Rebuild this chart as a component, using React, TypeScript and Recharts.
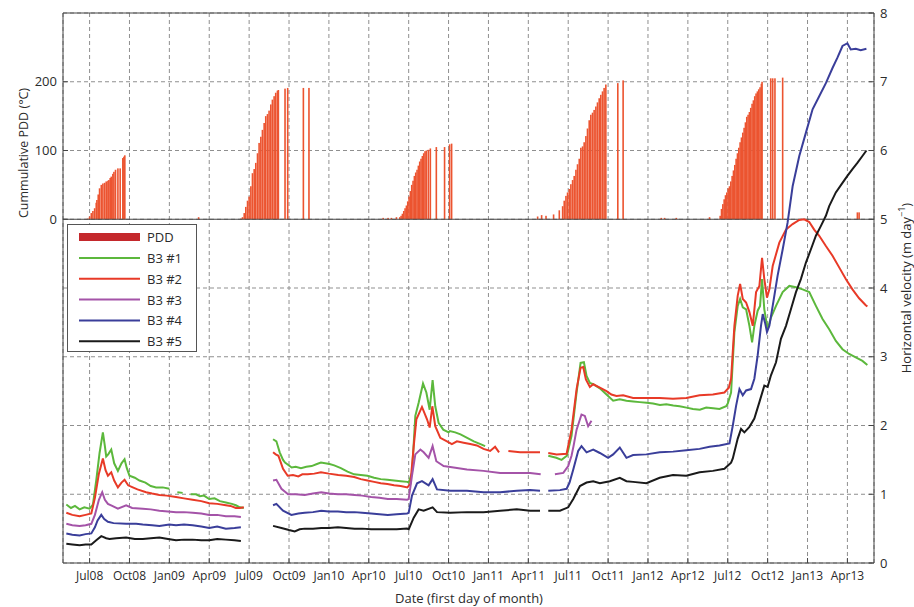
import { Bar, CartesianGrid, ComposedChart, Line, ReferenceLine, XAxis, YAxis } from 'recharts';

// x = months since Jan 2008 (6 = 1 Jul 2008), velocity in m/day, PDD in °C
type Pt = [number, number | null];

const quarterTicks = [6, 9, 12, 15, 18, 21, 24, 27, 30, 33, 36, 39, 42, 45, 48, 51, 54, 57, 60, 63];
const quarterLabels = ['Jul08', 'Oct08', 'Jan09', 'Apr09', 'Jul09', 'Oct09', 'Jan10', 'Apr10', 'Jul10', 'Oct10',
  'Jan11', 'Apr11', 'Jul11', 'Oct11', 'Jan12', 'Apr12', 'Jul12', 'Oct12', 'Jan13', 'Apr13'];
const pddTicks = [0, 100, 200];
const velocityTicks = [0, 1, 2, 3, 4, 5, 6, 7, 8];

const pdd2008: Pt[] = [[5.75, 0.5], [5.88, 1], [6.0, 4], [6.13, 9], [6.25, 12], [6.38, 16], [6.5, 24], [6.55, 28], [6.65, 36],
  [6.75, 45], [6.88, 50], [7.0, 52], [7.13, 53], [7.25, 55], [7.38, 56], [7.45, 57], [7.55, 60], [7.63, 62], [7.75, 66],
  [7.83, 69], [7.95, 72], [8.13, 74], [8.3, 74], [8.5, 89], [8.58, 91], [8.65, 93]];
const pdd2009: Pt[] = [[14.2, 3], [17.38, 1], [17.5, 3], [17.63, 9], [17.75, 18], [17.88, 27], [18.0, 33], [18.13, 48], [18.25, 67],
  [18.38, 73], [18.5, 82], [18.63, 96], [18.75, 111], [18.88, 120], [19.0, 130], [19.13, 140], [19.25, 150], [19.38, 153],
  [19.5, 158], [19.63, 167], [19.75, 174], [19.88, 179], [20.0, 184], [20.13, 187], [20.2, 188], [20.7, 190], [20.9, 191],
  [22.08, 191], [22.5, 191]];
const pdd2010: Pt[] = [[28.08, 2], [28.45, 2], [28.7, 2], [29.08, 3], [29.33, 3], [29.43, 5], [29.53, 8], [29.63, 12], [29.73, 16],
  [29.83, 20], [29.93, 26], [30.03, 33], [30.13, 41], [30.23, 50], [30.33, 56], [30.43, 63], [30.53, 68], [30.63, 72],
  [30.73, 78], [30.83, 84], [30.93, 88], [31.03, 92], [31.13, 96], [31.23, 99], [31.33, 100], [31.48, 101], [31.63, 103],
  [32.08, 105], [32.7, 105], [33.08, 109], [33.23, 110]];
const pdd2011: Pt[] = [[39.7, 4], [40.0, 6], [40.33, 5], [40.9, 7], [41.33, 13], [41.58, 19], [41.7, 27], [41.83, 34], [41.95, 39],
  [42.08, 44], [42.2, 51], [42.33, 57], [42.45, 63], [42.58, 72], [42.7, 80], [42.83, 88], [42.95, 104], [43.08, 106],
  [43.2, 112], [43.33, 121], [43.45, 132], [43.58, 144], [43.7, 152], [43.83, 155], [43.95, 159], [44.08, 164], [44.2, 170],
  [44.33, 176], [44.45, 181], [44.58, 186], [44.7, 191], [44.83, 196], [45.73, 198], [46.13, 202]];
const pdd2012: Pt[] = [[49.0, 2], [49.25, 2], [50.13, 2], [52.63, 3], [53.43, 5], [53.53, 15], [53.63, 22], [53.73, 29], [53.83, 35],
  [53.93, 39], [54.03, 45], [54.13, 48], [54.23, 55], [54.33, 63], [54.43, 71], [54.53, 79], [54.63, 88], [54.73, 96],
  [54.83, 104], [54.93, 112], [55.03, 119], [55.13, 126], [55.23, 133], [55.33, 141], [55.43, 149], [55.53, 152],
  [55.63, 156], [55.73, 162], [55.83, 168], [55.93, 173], [56.03, 179], [56.13, 183], [56.23, 186], [56.33, 189],
  [56.43, 192], [56.53, 197], [56.58, 200], [57.23, 205], [57.38, 205], [57.55, 205], [58.13, 206]];
const pdd2013: Pt[] = [[63.75, 10], [63.88, 10]];

const b3n1: Pt[] = [[4.25, 0.85], [4.6, 0.8], [4.9, 0.83], [5.25, 0.78], [5.6, 0.81], [6.0, 0.79], [6.25, 0.85], [6.5, 1.2],
  [6.75, 1.6], [7.0, 1.9], [7.15, 1.7], [7.25, 1.55], [7.4, 1.58], [7.63, 1.65], [7.85, 1.45], [8.13, 1.34], [8.4, 1.45],
  [8.63, 1.51], [8.8, 1.38], [9.0, 1.27], [9.4, 1.24], [9.75, 1.2], [10.2, 1.17], [10.6, 1.12], [11.0, 1.1], [11.5, 1.1],
  [12.0, 1.08], [12.3, null], [12.6, 1.03], [13.0, 1.02], [13.3, null], [13.6, 1.0], [14.0, 1.0], [14.3, 0.97], [14.6, 0.98],
  [15.0, 0.93], [15.4, 0.94], [15.8, 0.9], [16.25, 0.88], [16.7, 0.86], [17.0, 0.84], [17.3, 0.81], [17.6, 0.8], [18.5, null],
  [19.8, 1.8], [20.05, 1.77], [20.3, 1.61], [20.55, 1.5], [20.7, 1.46], [21.2, 1.39], [21.5, 1.4], [21.9, 1.38], [22.3, 1.4],
  [22.7, 1.41], [23.1, 1.44], [23.4, 1.46], [24.05, 1.44], [24.4, 1.42], [24.9, 1.38], [25.4, 1.33], [25.9, 1.29], [26.4, 1.28],
  [26.9, 1.27], [27.4, 1.24], [27.9, 1.22], [28.4, 1.21], [28.9, 1.2], [29.4, 1.19], [29.9, 1.18], [30.0, 1.17], [30.25, 1.31],
  [30.5, 2.14], [30.75, 2.33], [31.08, 2.61], [31.33, 2.48], [31.58, 2.23], [31.8, 2.66], [32.0, 2.28], [32.25, 2.04],
  [32.6, 1.94], [33.0, 1.9], [33.1, 1.92], [33.5, 1.9], [33.9, 1.87], [34.4, 1.82], [34.9, 1.77], [35.4, 1.73], [35.75, 1.7],
  [36.0, null], [40.5, 1.56], [41.1, 1.53], [41.5, 1.5], [41.9, 1.56], [42.25, 1.85], [42.63, 2.48], [42.93, 2.91],
  [43.18, 2.92], [43.38, 2.72], [43.63, 2.62], [43.88, 2.6], [44.38, 2.54], [44.88, 2.45], [45.38, 2.36], [45.88, 2.38],
  [46.38, 2.36], [46.9, 2.35], [47.38, 2.34], [47.9, 2.33], [48.38, 2.32], [48.9, 2.3], [49.38, 2.31], [49.9, 2.29],
  [50.38, 2.28], [50.9, 2.26], [51.38, 2.24], [51.9, 2.23], [52.38, 2.26], [52.9, 2.25], [53.38, 2.24], [53.88, 2.28],
  [54.0, 2.32], [54.25, 2.48], [54.5, 3.36], [54.75, 3.74], [54.93, 3.84], [55.13, 3.72], [55.38, 3.69], [55.63, 3.45],
  [55.83, 3.21], [56.0, 3.45], [56.25, 3.67], [56.43, 3.74], [56.58, 4.13], [56.75, 3.69], [57.0, 3.4], [57.25, 3.57],
  [57.63, 3.74], [58.13, 3.94], [58.63, 4.03], [59.13, 4.01], [59.63, 3.98], [60.13, 3.94], [60.63, 3.74], [61.13, 3.55],
  [61.63, 3.4], [62.13, 3.23], [62.63, 3.11], [63.13, 3.04], [63.63, 2.99], [64.13, 2.94], [64.5, 2.88]];

const b3n2: Pt[] = [[4.25, 0.73], [4.7, 0.7], [5.25, 0.68], [5.7, 0.7], [6.13, 0.72], [6.4, 0.95], [6.7, 1.3], [7.0, 1.52],
  [7.2, 1.35], [7.38, 1.27], [7.63, 1.32], [7.85, 1.2], [8.13, 1.1], [8.4, 1.17], [8.63, 1.21], [8.9, 1.13], [9.25, 1.1],
  [9.6, 1.07], [10.25, 1.03], [10.7, 1.01], [11.25, 0.99], [11.8, 0.98], [12.5, 0.96], [13.1, 0.94], [13.75, 0.92],
  [14.4, 0.9], [15.0, 0.87], [15.6, 0.86], [16.25, 0.84], [16.6, 0.83], [17.0, 0.8], [17.3, 0.8], [17.6, 0.81], [18.5, null],
  [19.8, 1.61], [20.0, 1.58], [20.2, 1.56], [20.55, 1.37], [20.9, 1.27], [21.3, 1.28], [21.7, 1.26], [22.0, 1.29], [22.4, 1.29],
  [22.9, 1.3], [23.4, 1.32], [24.0, 1.3], [24.7, 1.28], [25.3, 1.27], [25.9, 1.25], [26.4, 1.22], [26.9, 1.2], [27.4, 1.18],
  [27.9, 1.16], [28.4, 1.15], [28.9, 1.13], [29.4, 1.12], [29.9, 1.1], [30.13, 1.15], [30.38, 1.7], [30.58, 2.09], [31.0, 2.27],
  [31.38, 2.09], [31.58, 1.97], [31.78, 2.28], [32.0, 1.99], [32.38, 1.82], [32.88, 1.77], [33.25, 1.73], [33.63, 1.77],
  [34.13, 1.75], [34.63, 1.73], [35.13, 1.71], [35.63, 1.66], [36.13, 1.63], [36.5, 1.69], [36.8, 1.61], [37.1, null],
  [37.5, 1.63], [38.38, 1.61], [39.13, 1.61], [39.88, 1.61], [40.2, null], [40.5, 1.6], [41.13, 1.58], [41.88, 1.59],
  [42.25, 1.94], [42.63, 2.53], [42.93, 2.84], [43.13, 2.85], [43.33, 2.67], [43.63, 2.56], [43.88, 2.6], [44.38, 2.55],
  [44.88, 2.5], [45.25, 2.45], [45.63, 2.43], [46.13, 2.44], [46.88, 2.4], [47.88, 2.4], [48.88, 2.4], [49.88, 2.39],
  [50.88, 2.4], [51.88, 2.44], [52.88, 2.45], [53.75, 2.48], [54.08, 2.55], [54.25, 2.68], [54.5, 3.45], [54.75, 3.89],
  [54.93, 4.06], [55.13, 3.84], [55.38, 3.79], [55.63, 3.65], [55.88, 3.45], [56.13, 3.94], [56.38, 4.03], [56.58, 4.44],
  [56.75, 4.13], [56.95, 3.86], [57.13, 3.98], [57.38, 4.32], [57.88, 4.66], [58.38, 4.85], [58.88, 4.93], [59.38, 4.99],
  [59.75, 5.0], [60.13, 4.96], [60.5, 4.85], [60.88, 4.76], [61.38, 4.61], [61.88, 4.47], [62.38, 4.3], [62.88, 4.13],
  [63.38, 3.98], [63.88, 3.85], [64.38, 3.75], [64.5, 3.73]];

const b3n3: Pt[] = [[4.25, 0.57], [4.7, 0.55], [5.25, 0.54], [5.7, 0.55], [6.13, 0.57], [6.4, 0.7], [6.7, 0.92], [6.95, 1.03],
  [7.15, 0.92], [7.38, 0.86], [7.7, 0.83], [8.13, 0.79], [8.75, 0.84], [9.2, 0.8], [10.0, 0.79], [10.6, 0.78], [11.25, 0.76],
  [11.9, 0.75], [12.5, 0.74], [13.1, 0.74], [13.75, 0.73], [14.4, 0.72], [15.0, 0.7], [15.6, 0.7], [16.25, 0.68], [16.9, 0.68],
  [17.38, 0.67], [18.5, null], [19.8, 1.2], [20.05, 1.21], [20.43, 1.08], [20.93, 1.0], [21.5, 1.0], [22.18, 0.99],
  [22.8, 1.01], [23.43, 1.03], [24.0, 1.01], [24.68, 1.0], [25.3, 1.0], [25.93, 0.99], [26.5, 0.98], [27.18, 0.96],
  [27.8, 0.95], [28.43, 0.93], [29.1, 0.93], [29.88, 0.92], [30.0, 0.93], [30.25, 1.27], [30.5, 1.58], [30.88, 1.65],
  [31.13, 1.61], [31.5, 1.53], [31.8, 1.7], [32.08, 1.48], [32.63, 1.41], [33.38, 1.39], [34.38, 1.36], [35.63, 1.34],
  [36.88, 1.31], [38.13, 1.31], [39.13, 1.31], [39.93, 1.29], [40.4, null], [41.0, 1.29], [41.63, 1.31], [42.0, 1.41],
  [42.25, 1.56], [42.4, 1.7], [42.63, 1.94], [43.0, 2.16], [43.25, 2.14], [43.5, 1.99], [43.75, 2.07]];

const b3n4: Pt[] = [[4.25, 0.43], [4.7, 0.41], [5.25, 0.4], [5.7, 0.42], [6.13, 0.43], [6.4, 0.52], [6.6, 0.62], [6.88, 0.7],
  [7.1, 0.64], [7.38, 0.6], [7.8, 0.58], [8.75, 0.57], [9.5, 0.57], [10.0, 0.56], [10.7, 0.55], [11.25, 0.54], [12.0, 0.56],
  [12.5, 0.55], [13.1, 0.56], [13.75, 0.55], [14.4, 0.53], [15.0, 0.51], [15.6, 0.53], [16.25, 0.5], [16.9, 0.51], [17.38, 0.52],
  [18.5, null], [19.8, 0.84], [20.05, 0.86], [20.55, 0.76], [21.18, 0.7], [21.7, 0.72], [22.18, 0.73], [22.8, 0.74],
  [23.43, 0.76], [24.0, 0.75], [24.68, 0.75], [25.3, 0.74], [25.93, 0.74], [26.5, 0.73], [27.18, 0.72], [27.8, 0.71],
  [28.43, 0.7], [29.1, 0.71], [29.88, 0.72], [30.0, 0.73], [30.25, 0.98], [30.63, 1.16], [31.0, 1.19], [31.5, 1.13],
  [31.8, 1.22], [32.13, 1.07], [33.13, 1.05], [34.38, 1.05], [35.63, 1.03], [36.88, 1.03], [38.13, 1.05], [39.13, 1.06],
  [39.88, 1.05], [40.2, null], [40.5, 1.05], [41.38, 1.06], [41.88, 1.08], [42.1, 1.17], [42.38, 1.36], [42.75, 1.63],
  [43.0, 1.7], [43.38, 1.61], [43.88, 1.65], [44.38, 1.6], [45.0, 1.53], [45.38, 1.58], [45.88, 1.68], [46.38, 1.53],
  [46.88, 1.57], [47.88, 1.58], [48.88, 1.61], [49.88, 1.62], [50.88, 1.64], [51.88, 1.66], [52.63, 1.69], [53.38, 1.71],
  [54.13, 1.74], [54.38, 2.0], [54.63, 2.29], [54.88, 2.53], [55.13, 2.44], [55.38, 2.51], [55.75, 2.53], [56.0, 2.68],
  [56.25, 3.02], [56.5, 3.45], [56.63, 3.62], [56.8, 3.5], [56.95, 3.36], [57.13, 3.45], [57.38, 3.74], [57.75, 4.18],
  [58.13, 4.56], [58.5, 4.95], [58.88, 5.48], [59.38, 5.92], [59.88, 6.26], [60.38, 6.6], [60.88, 6.79], [61.38, 6.98],
  [61.88, 7.2], [62.25, 7.35], [62.63, 7.52], [63.0, 7.56], [63.25, 7.47], [63.63, 7.48], [64.0, 7.46], [64.43, 7.48]];

const b3n5: Pt[] = [[4.25, 0.28], [4.7, 0.27], [5.25, 0.26], [5.7, 0.27], [6.13, 0.27], [6.5, 0.33], [6.88, 0.39], [7.25, 0.36],
  [7.5, 0.35], [8.0, 0.36], [8.75, 0.37], [9.4, 0.35], [10.0, 0.35], [10.6, 0.36], [11.25, 0.37], [11.9, 0.35], [12.5, 0.33],
  [13.1, 0.34], [13.75, 0.34], [14.4, 0.33], [15.0, 0.33], [15.6, 0.35], [16.25, 0.34], [16.9, 0.33], [17.38, 0.32],
  [18.5, null], [19.8, 0.54], [20.43, 0.51], [21.0, 0.48], [21.43, 0.46], [21.8, 0.49], [22.18, 0.5], [22.8, 0.5],
  [23.43, 0.51], [24.0, 0.51], [24.68, 0.52], [25.3, 0.51], [25.93, 0.5], [26.5, 0.5], [27.18, 0.49], [27.8, 0.49],
  [28.43, 0.49], [29.1, 0.49], [29.88, 0.5], [30.0, 0.49], [30.38, 0.66], [30.75, 0.78], [31.13, 0.76], [31.8, 0.81],
  [32.13, 0.74], [33.13, 0.73], [34.38, 0.74], [35.63, 0.74], [36.88, 0.76], [38.13, 0.78], [39.13, 0.76], [39.88, 0.76],
  [40.2, null], [40.5, 0.76], [41.38, 0.76], [42.0, 0.81], [42.38, 0.93], [42.88, 1.12], [43.38, 1.17], [43.88, 1.19],
  [44.38, 1.16], [45.13, 1.19], [45.88, 1.24], [46.38, 1.19], [46.88, 1.18], [47.88, 1.16], [48.88, 1.24], [49.88, 1.28],
  [50.88, 1.27], [51.88, 1.32], [52.88, 1.34], [53.75, 1.37], [54.25, 1.46], [54.38, 1.52], [54.75, 1.81], [55.0, 1.95],
  [55.25, 1.9], [55.63, 1.98], [56.0, 2.1], [56.38, 2.34], [56.75, 2.58], [57.0, 2.56], [57.25, 2.73], [57.63, 2.92],
  [58.0, 3.26], [58.38, 3.45], [58.75, 3.69], [59.13, 3.94], [59.5, 4.13], [59.88, 4.37], [60.25, 4.56], [60.63, 4.76],
  [61.0, 4.9], [61.38, 5.05], [61.63, 5.19], [62.13, 5.39], [62.63, 5.53], [63.0, 5.63], [63.38, 5.73], [63.75, 5.82],
  [64.13, 5.92], [64.43, 6.0]];

const FONT = '"Open Sans", "DejaVu Sans", sans-serif';
const TEXT = '#2b2b2b';
const FRAME = '#444';
const PDD_COLOR = '#ec5430';
const PDD_BAR_WIDTH = 1.6;

const lines = [
  { name: 'B3 #1', points: b3n1, color: '#5cb83c' },
  { name: 'B3 #2', points: b3n2, color: '#e83a27' },
  { name: 'B3 #3', points: b3n3, color: '#a453a8' },
  { name: 'B3 #4', points: b3n4, color: '#3a3e9a' },
  { name: 'B3 #5', points: b3n5, color: '#1a1a1a' },
];

const pddRows = [...pdd2008, ...pdd2009, ...pdd2010, ...pdd2011, ...pdd2012, ...pdd2013].map(([m, pdd]) => ({ m, pdd }));
const toRows = (pts: Pt[]) => pts.map(([m, v]) => ({ m, v }));

const tickLabel = (v: number) => quarterLabels[quarterTicks.indexOf(v)] ?? '';

// recharts squeezes bars to the smallest gap between x values, so draw each bar as a thin fixed-width stick
// centred on the x position that the scale gave it
const PddStick = (props: any) => {
  const { x, y, width, height } = props;
  if (height == null || !isFinite(height)) return null;
  const cx = x + width / 2;
  return <rect x={cx - PDD_BAR_WIDTH / 2} y={y} width={PDD_BAR_WIDTH} height={height} fill={PDD_COLOR} />;
};

const LegendBox = () => (
  <div style={{ position: 'absolute', left: 67, top: 224, width: 130, height: 128, boxSizing: 'border-box',
    border: '1px solid #555', background: '#fff' }}>
    <svg width={128} height={126} style={{ display: 'block' }}>
      <line x1={11} x2={72} y1={12} y2={12} stroke="#c4282c" strokeWidth={8} />
      <text x={79} y={12} dominantBaseline="central" fontFamily={FONT} fontSize={13} fill={TEXT}>PDD</text>
      {lines.map((l, i) => (
        <g key={l.name}>
          <line x1={11} x2={72} y1={33 + i * 20.8} y2={33 + i * 20.8} stroke={l.color} strokeWidth={2} />
          <text x={79} y={33 + i * 20.8} dominantBaseline="central" fontFamily={FONT} fontSize={13} fill={TEXT}>{l.name}</text>
        </g>
      ))}
    </svg>
  </div>
);

export default function App() {
  return (
    <div style={{ position: 'absolute', left: 0, top: 0, width: 914, height: 607, background: '#fff' }}>
      <ComposedChart width={914} height={607} data={pddRows} margin={{ top: 8, right: 10, bottom: 14, left: 13 }}>
        <CartesianGrid xAxisId="bottom" yAxisId="right" stroke="#8f8f8f" strokeDasharray="4 3" />
        <XAxis xAxisId="bottom" dataKey="m" type="number" domain={[4, 65]} allowDataOverflow ticks={quarterTicks}
          interval={0} tickFormatter={tickLabel} height={30} tickSize={-5} tickMargin={13}
          axisLine={{ stroke: FRAME }} tickLine={{ stroke: FRAME }}
          tick={{ fontFamily: FONT, fontSize: 12, fill: TEXT }} />
        <XAxis xAxisId="top" orientation="top" dataKey="m" type="number" domain={[4, 65]} allowDataOverflow
          ticks={quarterTicks} interval={0} height={5} tickSize={-5} tick={false}
          axisLine={{ stroke: FRAME }} tickLine={{ stroke: FRAME }} />
        <YAxis yAxisId="left" orientation="left" type="number" domain={[-500, 300]} ticks={pddTicks} interval={0}
          width={50} tickSize={-5} tickMargin={11} axisLine={{ stroke: FRAME }} tickLine={{ stroke: FRAME }}
          tick={{ fontFamily: FONT, fontSize: 13, fill: TEXT }} />
        <YAxis yAxisId="right" orientation="right" type="number" domain={[0, 8]} ticks={velocityTicks} interval={0}
          width={30} tickSize={-5} tickMargin={11} axisLine={{ stroke: FRAME }} tickLine={{ stroke: FRAME }}
          tick={{ fontFamily: FONT, fontSize: 13, fill: TEXT }} />
        <ReferenceLine xAxisId="bottom" yAxisId="right" y={5} stroke={FRAME} strokeWidth={1.2} />
        <Bar xAxisId="bottom" yAxisId="left" dataKey="pdd" name="PDD" fill={PDD_COLOR} shape={PddStick}
          isAnimationActive={false} />
        {lines.map((l) => (
          <Line key={l.name} xAxisId="bottom" yAxisId="right" data={toRows(l.points)} dataKey="v" name={l.name}
            stroke={l.color} strokeWidth={2} dot={false} activeDot={false} type="linear" isAnimationActive={false} />
        ))}
      </ComposedChart>
      <LegendBox />
      <div style={{ position: 'absolute', left: 23, top: 153, transform: 'translate(-50%, -50%) rotate(-90deg)',
        whiteSpace: 'nowrap', fontFamily: FONT, fontSize: 12.5, color: TEXT }}>
        Cummulative PDD (°C)
      </div>
      <div style={{ position: 'absolute', left: 905, top: 288, transform: 'translate(-50%, -50%) rotate(-90deg)',
        whiteSpace: 'nowrap', fontFamily: FONT, fontSize: 13, color: TEXT }}>
        Horizontal velocity (m day<sup style={{ fontSize: 9 }}>−1</sup>)
      </div>
      <div style={{ position: 'absolute', left: 469, top: 598, transform: 'translate(-50%, -50%)',
        whiteSpace: 'nowrap', fontFamily: FONT, fontSize: 13, color: TEXT }}>
        Date (first day of month)
      </div>
    </div>
  );
}
